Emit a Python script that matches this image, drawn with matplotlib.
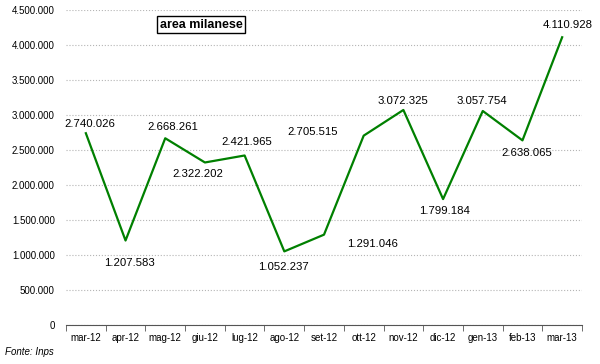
import matplotlib.pyplot as plt
import numpy as np

mesi = ['mar-12', 'apr-12', 'mag-12', 'giu-12', 'lug-12', 'ago-12', 'set-12',
        'ott-12', 'nov-12', 'dic-12', 'gen-13', 'feb-13', 'mar-13']
valori = [2740026, 1207583, 2668261, 2322202, 2421965, 1052237, 1291046,
          2705515, 3072325, 1799184, 3057754, 2638065, 4110928]
# offset delle etichette in pixel (dx, dy)
offset = [(4, 9), (4, -22), (8, 11), (-7, -12), (2, 13), (-1, -16), (49, -9),
          (-51, 4), (0, 9), (1, -12), (-1, 10), (4, -13), (6, 12)]


def fmt(v):
    return f'{int(v):,}'.replace(',', '.')


plt.rcParams['font.family'] = ['Liberation Sans', 'DejaVu Sans']

fig = plt.figure(figsize=(6, 3.64), dpi=100)
ax = fig.add_axes([0.11, 0.107, 0.86, 0.8655])

x = np.arange(len(mesi))
ax.plot(x, valori, color='#008000', lw=1.6)

for xi, v, (dx, dy) in zip(x, valori, offset):
    ax.annotate(fmt(v), (xi, v), xytext=(dx, dy), textcoords='offset pixels',
                ha='center', va='center', fontsize=8.2)

ax.set_xlim(-0.5, len(mesi) - 0.5)
ax.set_ylim(0, 4500000)
ax.set_yticks(np.arange(0, 4500001, 500000))
ax.set_yticklabels([fmt(t) for t in np.arange(0, 4500001, 500000)], fontsize=7)
ax.set_xticks(x)
ax.set_xticklabels(mesi, fontsize=7)
ax.set_xticks(np.arange(-0.5, len(mesi)), minor=True)
ax.tick_params(axis='x', which='major', length=0, pad=6)
ax.tick_params(axis='x', which='minor', length=4, direction='out', color='#555555')
ax.tick_params(axis='y', length=0, pad=8)

ax.grid(axis='y', color='#b5b5b5', ls=':', lw=0.8)
for s in ['top', 'right', 'left']:
    ax.spines[s].set_visible(False)
ax.spines['bottom'].set_color('#555555')

ax.text(0.262, 0.953, 'area milanese', transform=ax.transAxes, ha='center',
        va='center', fontsize=9, fontweight='bold',
        bbox=dict(boxstyle='square,pad=0.2', fc='white', ec='black', lw=1))

fig.text(0.008, 0.025, 'Fonte: Inps', fontsize=7, style='italic')

fig.savefig('out.png', dpi=100)
